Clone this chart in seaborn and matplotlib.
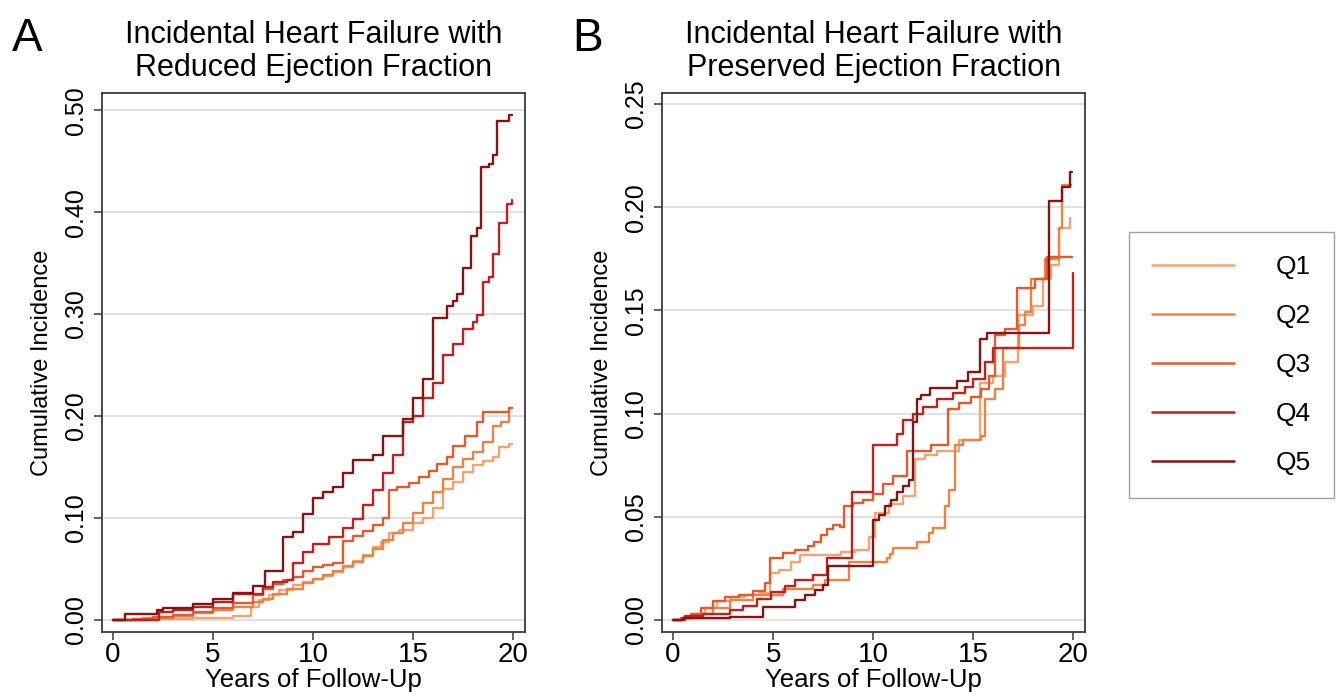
import pandas as pd
import numpy as np
import matplotlib
matplotlib.use("Agg")
import matplotlib.pyplot as plt
import seaborn as sns

# ==========================================
# Data (step curves)
# ==========================================
quintiles = ["Q1", "Q2", "Q3", "Q4", "Q5"]
colors = ["#F4A371", "#EE8245", "#E35B2C", "#C21F1D", "#861414"]

# Panel A: reduced ejection fraction
a_q1_t = [0, 2, 4, 6.0, 6.9, 7.3, 7.8, 8.3, 9.0, 9.5, 10, 10.5, 11, 11.5, 12, 12.5, 13, 13.4, 13.8, 14.3, 15, 15.5, 16, 16.5, 17, 17.5, 18, 18.5, 19, 19.3, 19.8, 19.95]
a_q1_v = [0, 0.001, 0.002, 0.004, 0.013, 0.0196, 0.024, 0.029, 0.034, 0.037, 0.04, 0.043, 0.047, 0.052, 0.058, 0.064, 0.072, 0.076, 0.085, 0.088, 0.095, 0.1, 0.11, 0.128, 0.135, 0.145, 0.152, 0.156, 0.16, 0.17, 0.173, 0.173]
a_q2_t = [0, 1.5, 3, 4, 5, 6, 7, 7.5, 8, 8.7, 9.5, 10, 10.5, 11, 11.5, 12, 12.5, 13, 13.5, 14, 14.5, 15, 15.5, 16, 16.5, 17, 17.5, 18, 18.5, 19, 19.4, 19.8, 19.95]
a_q2_v = [0, 0.002, 0.004, 0.0065, 0.0098, 0.013, 0.018, 0.021, 0.025, 0.03, 0.036, 0.04, 0.044, 0.048, 0.053, 0.057, 0.063, 0.07, 0.078, 0.085, 0.095, 0.105, 0.115, 0.125, 0.138, 0.15, 0.158, 0.165, 0.175, 0.19, 0.194, 0.208, 0.208]
a_q3_t = [0, 1, 2, 3, 4, 5, 6, 7, 7.5, 8, 8.5, 9, 9.5, 10, 10.5, 11, 11.5, 12, 12.5, 13, 13.5, 13.8, 14.2, 14.8, 15.3, 15.8, 16.2, 16.7, 17, 17.6, 18.2, 18.5, 19.8, 19.95]
a_q3_v = [0, 0.001, 0.003, 0.005, 0.008, 0.012, 0.017, 0.024, 0.03, 0.035, 0.039, 0.042, 0.048, 0.052, 0.054, 0.056, 0.077, 0.082, 0.087, 0.093, 0.1, 0.127, 0.13, 0.134, 0.14, 0.146, 0.153, 0.16, 0.171, 0.18, 0.194, 0.204, 0.208, 0.208]
a_q4_t = [0, 2.3, 3, 4, 5, 6, 7.5, 8, 8.7, 9, 9.5, 10, 10.8, 11.5, 12, 12.5, 13, 13.5, 14, 14.5, 15, 15.5, 16, 16.5, 17, 17.5, 18, 18.2, 18.5, 18.8, 19, 19.3, 19.7, 19.95]
a_q4_v = [0, 0.008, 0.01, 0.013, 0.018, 0.025, 0.032, 0.037, 0.039, 0.056, 0.067, 0.074, 0.081, 0.09, 0.099, 0.113, 0.127, 0.144, 0.162, 0.194, 0.2, 0.218, 0.232, 0.26, 0.271, 0.285, 0.292, 0.299, 0.331, 0.336, 0.359, 0.389, 0.408, 0.412]
a_q5_t = [0, 0.6, 2.2, 2.5, 4, 5, 6, 7, 7.6, 8.5, 9, 9.5, 10, 10.5, 11, 11.5, 12, 13, 13.5, 14.5, 15, 15.5, 16, 16.7, 17, 17.2, 17.5, 17.9, 18.2, 18.4, 18.8, 19, 19.2, 19.8, 19.95]
a_q5_v = [0, 0.006, 0.01, 0.012, 0.016, 0.021, 0.026, 0.033, 0.048, 0.081, 0.086, 0.104, 0.12, 0.125, 0.13, 0.144, 0.157, 0.162, 0.18, 0.197, 0.218, 0.236, 0.296, 0.308, 0.313, 0.32, 0.345, 0.377, 0.384, 0.444, 0.447, 0.456, 0.489, 0.495, 0.495]

# Panel B: preserved ejection fraction
b_q1_t = [0, 0.4, 1.0, 1.6, 2.2, 2.9, 3.6, 4.3, 4.85, 5.3, 5.9, 6.35, 8.4, 9.1, 9.77, 10.1, 10.8, 11.5, 12.1, 12.6, 13.2, 14.3, 15.35, 16.0, 16.6, 17.25, 18.0, 18.5, 18.9, 19.3, 19.85]
b_q1_v = [0, 0.001, 0.003, 0.006, 0.009, 0.011, 0.012, 0.013, 0.0227, 0.024, 0.028, 0.0316, 0.033, 0.034, 0.040, 0.052, 0.056, 0.060, 0.078, 0.080, 0.082, 0.087, 0.115, 0.118, 0.125, 0.148, 0.152, 0.165, 0.172, 0.19, 0.195]
b_q2_t = [0, 0.5, 1.2, 2.0, 2.85, 4.0, 5.5, 7.0, 7.6, 8.77, 10.7, 10.85, 11.0, 12.2, 12.8, 13.0, 13.6, 13.77, 14.1, 14.5, 15.4, 15.6, 16.1, 16.5, 17.3, 17.6, 17.9, 18.6, 19.3, 19.45, 19.9]
b_q2_v = [0, 0.001, 0.003, 0.006, 0.0097, 0.012, 0.015, 0.017, 0.0194, 0.028, 0.030, 0.032, 0.035, 0.038, 0.042, 0.0444, 0.055, 0.063, 0.085, 0.087, 0.089, 0.107, 0.112, 0.132, 0.143, 0.149, 0.165, 0.175, 0.19, 0.211, 0.211]
b_q3_t = [0, 0.4, 0.9, 1.4, 2.0, 2.6, 3.3, 4.0, 4.6, 4.85, 5.5, 6.1, 6.75, 7.05, 7.4, 7.7, 8.0, 8.35, 8.55, 9.0, 9.5, 10.0, 10.5, 11.0, 11.7, 12.9, 13.75, 14.3, 14.9, 15.4, 15.8, 16.1, 16.6, 17.2, 18.1, 18.7, 19.95]
b_q3_v = [0, 0.001, 0.003, 0.006, 0.009, 0.011, 0.012, 0.014, 0.018, 0.030, 0.0325, 0.034, 0.036, 0.038, 0.041, 0.044, 0.046, 0.0453, 0.055, 0.0566, 0.058, 0.061, 0.066, 0.070, 0.082, 0.085, 0.102, 0.105, 0.108, 0.112, 0.118, 0.138, 0.141, 0.161, 0.165, 0.176, 0.176]
b_q4_t = [0, 0.6, 1.5, 2.85, 3.5, 4.2, 4.9, 5.6, 6.1, 7.0, 7.7, 8.93, 10.0, 11.2, 11.5, 12.0, 12.5, 13.2, 14.0, 14.6, 15.0, 15.6, 16.0, 20.0]
b_q4_v = [0, 0.002, 0.003, 0.0048, 0.007, 0.010, 0.0137, 0.0165, 0.0194, 0.022, 0.030, 0.062, 0.085, 0.090, 0.097, 0.100, 0.103, 0.107, 0.110, 0.113, 0.117, 0.125, 0.132, 0.168]
b_q5_t = [0, 0.5, 1.5, 2.85, 4.5, 6.1, 6.6, 7.1, 7.5, 7.75, 10.0, 10.3, 10.6, 10.9, 11.2, 11.5, 11.8, 12.0, 12.2, 12.4, 12.85, 14.2, 14.75, 15.35, 15.7, 18.8, 19.45, 19.85, 19.95]
b_q5_v = [0, 0.001, 0.001, 0.0016, 0.0065, 0.0097, 0.012, 0.0146, 0.017, 0.026, 0.0485, 0.051, 0.055, 0.058, 0.062, 0.065, 0.068, 0.096, 0.107, 0.109, 0.1126, 0.1157, 0.12, 0.136, 0.139, 0.203, 0.21, 0.217, 0.217]

x_ticks = [0, 5, 10, 15, 20]
a_y_ticks = [0.0, 0.1, 0.2, 0.3, 0.4, 0.5]
b_y_ticks = [0.0, 0.05, 0.10, 0.15, 0.20, 0.25]
title_a = "Incidental Heart Failure with\nReduced Ejection Fraction"
title_b = "Incidental Heart Failure with\nPreserved Ejection Fraction"


def long_frame(ts, vs):
    rows = []
    for q, t, v in zip(quintiles, ts, vs):
        rows.append(pd.DataFrame({"t": t, "v": v, "q": q}))
    return pd.concat(rows, ignore_index=True)


df_a = long_frame([a_q1_t, a_q2_t, a_q3_t, a_q4_t, a_q5_t],
                  [a_q1_v, a_q2_v, a_q3_v, a_q4_v, a_q5_v])
df_b = long_frame([b_q1_t, b_q2_t, b_q3_t, b_q4_t, b_q5_t],
                  [b_q1_v, b_q2_v, b_q3_v, b_q4_v, b_q5_v])

# ==========================================
# Figure
# ==========================================
sns.set_theme(style="white")
plt.rcParams["font.family"] = ["Liberation Sans", "DejaVu Sans"]
plt.rcParams["text.color"] = "black"
plt.rcParams["axes.labelcolor"] = "black"
plt.rcParams["xtick.color"] = "black"
plt.rcParams["ytick.color"] = "black"

fig = plt.figure(figsize=(13.43, 6.98), dpi=100)
ax_a = fig.add_axes([0.076, 0.0946, 0.315, 0.772])
ax_b = fig.add_axes([0.493, 0.0946, 0.315, 0.772])

palette = dict(zip(quintiles, colors))

for ax, df, yt, ylim, title, letter in [
    (ax_a, df_a, a_y_ticks, (-0.0118, 0.5167), title_a, "A"),
    (ax_b, df_b, b_y_ticks, (-0.0058, 0.2553), title_b, "B"),
]:
    sns.lineplot(data=df, x="t", y="v", hue="q", palette=palette,
                 drawstyle="steps-post", linewidth=1.7, estimator=None,
                 legend=False, ax=ax)
    ax.set_xlim(-0.55, 20.6)
    ax.set_ylim(*ylim)
    ax.set_xticks(x_ticks)
    ax.set_yticks(yt)
    ax.set_yticklabels([f"{v:.2f}" for v in yt], rotation=90, va="center")
    ax.yaxis.grid(True, color="#d9d9d9", linewidth=1.1)
    ax.set_axisbelow(True)
    for s in ax.spines.values():
        s.set_color("#3a3a3a")
        s.set_linewidth(1.3)
    ax.tick_params(axis="x", labelsize=20, length=6, width=1.1,
                   color="#3a3a3a", bottom=True, pad=1)
    ax.tick_params(axis="y", labelsize=18, length=6, width=1.1,
                   color="#3a3a3a", left=True, pad=4)
    ax.set_xlabel("Years of Follow-Up", fontsize=18.5, labelpad=0)
    ax.set_ylabel("Cumulative Incidence", fontsize=17, labelpad=8)
    ax.set_title(title, fontsize=22, pad=12, linespacing=1.15)
    bb = ax.get_position()
    fig.text(bb.x0 - 0.067, 0.975, letter, fontsize=33, ha="left", va="top")

handles = [plt.Line2D([], [], color=c, linewidth=1.8) for c in colors]
leg = fig.legend(handles, quintiles, loc="center",
                 bbox_to_anchor=(0.917, 0.477), fontsize=19,
                 handlelength=3.1, handletextpad=1.6, labelspacing=0.95,
                 borderpad=0.85, fancybox=False, frameon=True)
leg.get_frame().set_edgecolor("#8a8a8a")
leg.get_frame().set_linewidth(1.0)

plt.savefig("out.png", dpi=100)
